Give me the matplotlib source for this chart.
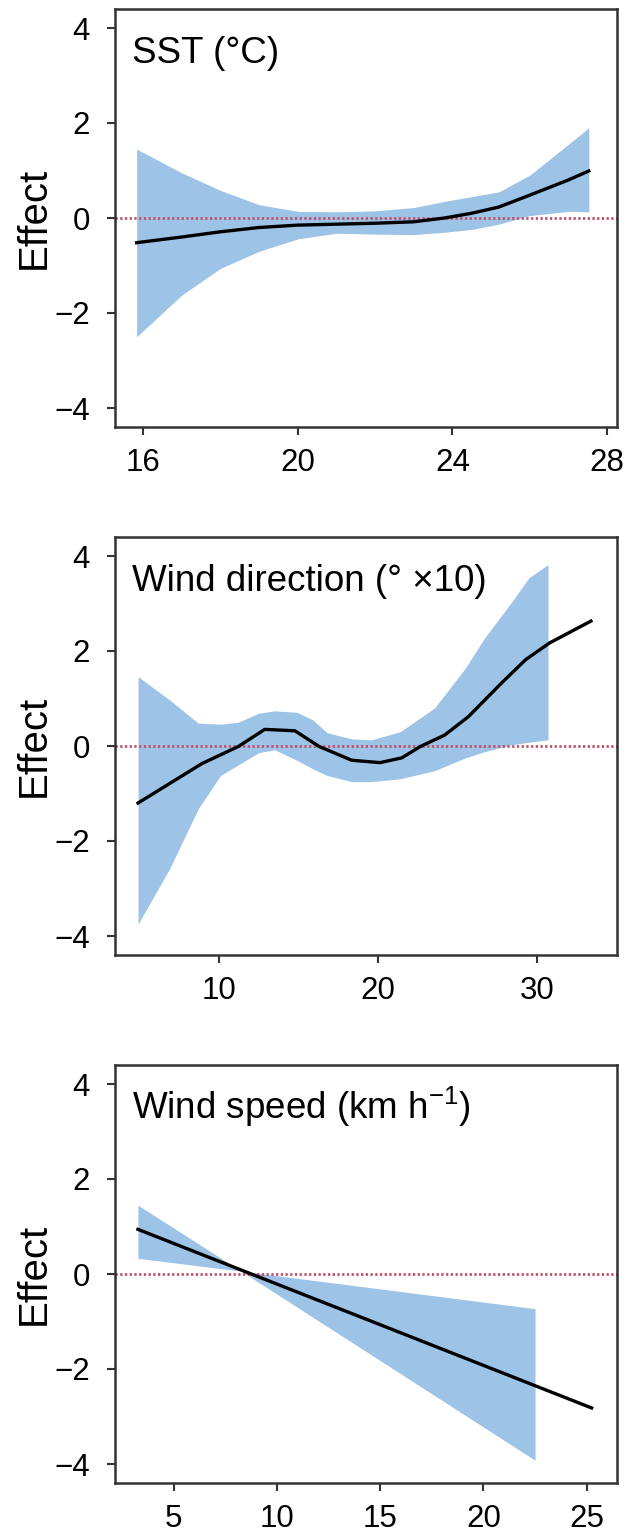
import matplotlib
matplotlib.use("Agg")
import matplotlib.pyplot as plt
import numpy as np

plt.rcParams['font.family'] = ['Liberation Sans', 'DejaVu Sans']

# ---- Panel 1: SST ----
sst_x = [15.83, 17.0, 18.0, 19.0, 20.0, 21.0, 22.0, 23.0, 23.8, 24.5, 25.2, 26.0, 27.0, 27.53]
sst_fit = [-0.52, -0.40, -0.29, -0.20, -0.15, -0.13, -0.11, -0.08, 0.0, 0.10, 0.23, 0.48, 0.80, 0.99]
sst_hi = [1.45, 0.95, 0.58, 0.28, 0.14, 0.13, 0.15, 0.22, 0.35, 0.45, 0.55, 0.90, 1.55, 1.90]
sst_lo = [-2.50, -1.62, -1.06, -0.70, -0.44, -0.32, -0.34, -0.35, -0.30, -0.24, -0.13, 0.05, 0.14, 0.13]

# ---- Panel 2: Wind direction ----
wd_x = [4.91, 8.93, 11.22, 12.88, 14.78, 16.3, 18.35, 20.13, 21.5, 22.67, 24.2, 25.7, 27.76, 29.3, 30.8, 33.4]
wd_fit = [-1.20, -0.37, -0.01, 0.35, 0.32, -0.01, -0.30, -0.35, -0.25, -0.01, 0.23, 0.62, 1.32, 1.82, 2.17, 2.63]
wd_band_x = [4.91, 6.9, 8.7, 10.1, 11.2, 12.5, 13.5, 14.9, 15.9, 16.8, 18.35, 19.6, 21.4, 23.56, 25.5, 26.7, 28.3, 29.5, 30.7]
wd_hi = [1.46, 0.97, 0.48, 0.46, 0.50, 0.69, 0.74, 0.71, 0.55, 0.28, 0.15, 0.13, 0.30, 0.80, 1.64, 2.27, 2.98, 3.54, 3.82]
wd_lo = [-3.75, -2.58, -1.32, -0.62, -0.40, -0.14, -0.08, -0.30, -0.48, -0.62, -0.75, -0.75, -0.69, -0.52, -0.25, -0.12, 0.02, 0.08, 0.13]

# ---- Panel 3: Wind speed ----
ws_x = [3.27, 25.24]
ws_fit = [0.94, -2.82]
ws_band_x = [3.27, 8.27, 22.5]
ws_hi = [1.45, 0.06, -0.73]
ws_lo = [0.33, 0.06, -3.92]

titles = ['SST (°C)', 'Wind direction (° ×10)', 'Wind speed (km h$^{\\mathregular{-1}}$)']
xlims = [(15.27, 28.26), (3.46, 35.04), (2.16, 26.47)]
xticks = [[16, 20, 24, 28], [10, 20, 30], [5, 10, 15, 20, 25]]
yticks = [-4, -2, 0, 2, 4]
ytick_labels = ['\u22124', '\u22122', '0', '2', '4']

band_color = '#9dc3e6'
ref_color = '#c0506a'
spine_color = '#333333'

fig = plt.figure(figsize=(6.3, 15.32), dpi=100)
W, H = 630, 1532
left_px, right_px = 115, 617
tops = [9, 537, 1065]
box_h = 418

panels = [
    (sst_x, sst_fit, sst_x, sst_hi, sst_lo),
    (wd_x, wd_fit, wd_band_x, wd_hi, wd_lo),
    (ws_x, ws_fit, ws_band_x, ws_hi, ws_lo),
]

for i, (lx, ly, bx, bhi, blo) in enumerate(panels):
    top = tops[i]
    ax = fig.add_axes([left_px / W, 1 - (top + box_h) / H, (right_px - left_px) / W, box_h / H])
    ax.fill_between(bx, blo, bhi, color=band_color, lw=0, zorder=1)
    ax.axhline(0, color=ref_color, lw=2.0, ls=(0, (0.8, 0.9)), zorder=2)
    ax.plot(lx, ly, color='black', lw=2.4, zorder=3)
    ax.set_xlim(*xlims[i])
    ax.set_ylim(-4.4, 4.4)
    ax.set_xticks(xticks[i])
    ax.set_yticks(yticks)
    ax.set_yticklabels(ytick_labels)
    ax.tick_params(axis='both', direction='out', length=6, width=1.5, color=spine_color,
                   labelsize=22.5)
    ax.tick_params(axis='y', pad=12)
    ax.tick_params(axis='x', pad=9)
    for s in ax.spines.values():
        s.set_linewidth(1.8)
        s.set_color(spine_color)
    ax.set_ylabel('Effect', fontsize=29)
    ax.yaxis.set_label_coords(-0.125, 0.5)
    ax.text(0.034, 0.87, titles[i], transform=ax.transAxes, fontsize=26.5,
            ha='left', va='baseline')

fig.savefig('out.png', dpi=100)
